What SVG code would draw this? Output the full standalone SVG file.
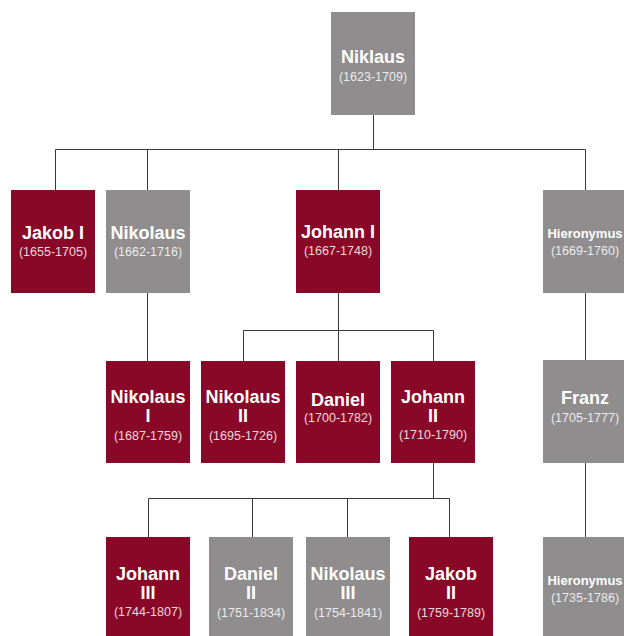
<svg xmlns="http://www.w3.org/2000/svg" width="624" height="636" viewBox="0 0 624 636">
<style>
.red{fill:#8a0827}
.grey{fill:#8f8d8e}
.nm{font-family:"Liberation Sans",Arial,sans-serif;font-weight:bold;font-size:18px;fill:#fff;text-anchor:middle}
.sm{font-size:13px}
.dt{font-family:"Liberation Sans",Arial,sans-serif;font-size:12.5px;fill:#fff;fill-opacity:0.85;text-anchor:middle}
.ln{fill:none;stroke:#3a3a3a;stroke-width:1}
</style>
<rect width="624" height="636" fill="#fff"/>
<g id="connectors" class="ln">
<path d="M373.5 115V149.5M55.5 149.5H585.5M55.5 149.5V190M147.5 149.5V190M338.5 149.5V190M585.5 149.5V190"/>
<path d="M147.5 293V361"/>
<path d="M338.5 293V330.5M243.5 330.5H433.5M243.5 330.5V361M338.5 330.5V361M433.5 330.5V361"/>
<path d="M433.5 463V498.5M148.5 498.5H449.5M148.5 498.5V537M252.5 498.5V537M347.5 498.5V537M449.5 498.5V537"/>
<path d="M585.5 293V360M585.5 463V537"/>
</g>
<g id="niklaus"><rect class="grey" x="331" y="12" width="84" height="103"/><text class="nm" x="373" y="63">Niklaus</text><text class="dt" x="373" y="81">(1623-1709)</text></g>
<g id="jakob1"><rect class="red" x="11" y="190" width="84" height="103"/><text class="nm" x="53" y="239">Jakob I</text><text class="dt" x="53" y="256">(1655-1705)</text></g>
<g id="nikolaus"><rect class="grey" x="106" y="190" width="84" height="103"/><text class="nm" x="148" y="239">Nikolaus</text><text class="dt" x="148" y="256">(1662-1716)</text></g>
<g id="johann1"><rect class="red" x="296" y="190" width="84" height="103"/><text class="nm" x="338" y="238">Johann I</text><text class="dt" x="338" y="255">(1667-1748)</text></g>
<g id="hieronymus1"><rect class="grey" x="543" y="190" width="84" height="103"/><text class="nm sm" x="585" y="238">Hieronymus</text><text class="dt" x="585" y="255">(1669-1760)</text></g>
<g id="nikolaus1"><rect class="red" x="106" y="361" width="84" height="102"/><text class="nm" x="148" y="403">Nikolaus</text><text class="nm" x="148" y="422">I</text><text class="dt" x="148" y="440">(1687-1759)</text></g>
<g id="nikolaus2"><rect class="red" x="201" y="361" width="84" height="102"/><text class="nm" x="243" y="403">Nikolaus</text><text class="nm" x="243" y="422">II</text><text class="dt" x="243" y="440">(1695-1726)</text></g>
<g id="daniel"><rect class="red" x="296" y="361" width="84" height="102"/><text class="nm" x="338" y="406">Daniel</text><text class="dt" x="338" y="422">(1700-1782)</text></g>
<g id="johann2"><rect class="red" x="391" y="361" width="84" height="102"/><text class="nm" x="433" y="403">Johann</text><text class="nm" x="433" y="422">II</text><text class="dt" x="433" y="439">(1710-1790)</text></g>
<g id="franz"><rect class="grey" x="543" y="360" width="84" height="103"/><text class="nm" x="585" y="404">Franz</text><text class="dt" x="585" y="422">(1705-1777)</text></g>
<g id="johann3"><rect class="red" x="106" y="537" width="84" height="103"/><text class="nm" x="148" y="580">Johann</text><text class="nm" x="148" y="599">III</text><text class="dt" x="148" y="616">(1744-1807)</text></g>
<g id="daniel2"><rect class="grey" x="209" y="537" width="84" height="103"/><text class="nm" x="251" y="580">Daniel</text><text class="nm" x="251" y="599">II</text><text class="dt" x="251" y="617">(1751-1834)</text></g>
<g id="nikolaus3"><rect class="grey" x="306" y="537" width="84" height="103"/><text class="nm" x="348" y="580">Nikolaus</text><text class="nm" x="348" y="599">III</text><text class="dt" x="348" y="617">(1754-1841)</text></g>
<g id="jakob2"><rect class="red" x="409" y="537" width="84" height="103"/><text class="nm" x="451" y="580">Jakob</text><text class="nm" x="451" y="599">II</text><text class="dt" x="451" y="617">(1759-1789)</text></g>
<g id="hieronymus2"><rect class="grey" x="543" y="537" width="84" height="103"/><text class="nm sm" x="585" y="585">Hieronymus</text><text class="dt" x="585" y="602">(1735-1786)</text></g>
</svg>
